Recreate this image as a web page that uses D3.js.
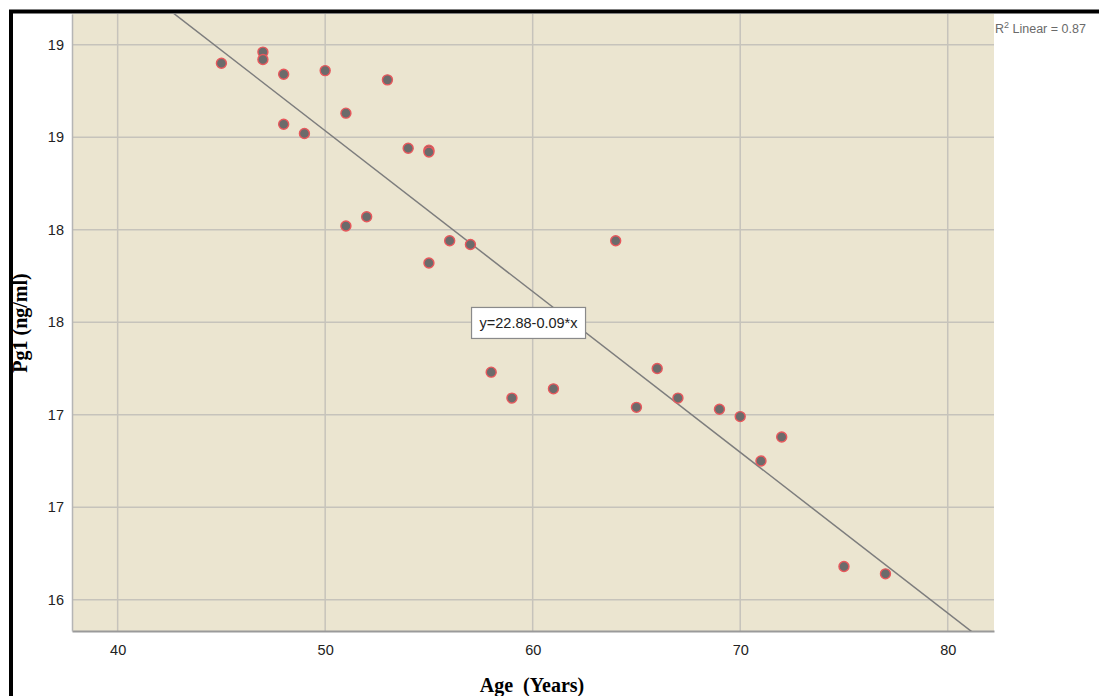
<!DOCTYPE html>
<html>
<head>
<meta charset="utf-8">
<script src="https://cdn.jsdelivr.net/npm/d3@7"></script>
<style>
  html, body { margin: 0; padding: 0; background: #ffffff; }
  svg { display: block; }
</style>
</head>
<body>
<svg id="chart" width="1099" height="696"></svg>
<script>
// ---- data ----
const ages = [45, 47, 47, 48, 50, 53, 48, 49, 51, 54, 55, 55, 51, 52, 56, 57, 55, 64,
              58, 59, 61, 66, 65, 67, 69, 70, 72, 71, 75, 77];
const pg1  = [18.90, 18.96, 18.92, 18.84, 18.86, 18.81, 18.57, 18.52, 18.63, 18.44, 18.43, 18.42,
              18.02, 18.07, 17.94, 17.92, 17.82, 17.94,
              17.23, 17.09, 17.14, 17.25, 17.04, 17.09, 17.03, 16.99, 16.88, 16.75, 16.18, 16.14];
const xTicks = [40, 50, 60, 70, 80];
const yTicks = [16, 16.5, 17, 17.5, 18, 18.5, 19];
const fitIntercept = 22.88;
const fitSlope = -0.0869;
const fitLabel = "y=22.88-0.09*x";
const r2Label = ["R", "2", " Linear = 0.87"];
const xTitle = "Age  (Years)";
const yTitle = "Pg1 (ng/ml)";

// ---- layout ----
const svg = d3.select("#chart");
const plot = { left: 72, top: 14, right: 994, bottom: 631 };
const x = d3.scaleLinear().domain([37.80, 82.23]).range([plot.left, plot.right]);
const y = d3.scaleLinear().domain([15.831, 19.166]).range([plot.bottom, plot.top]);

// outer frame
svg.append("rect")
  .attr("x", 11).attr("y", 11.5).attr("width", 1200).attr("height", 800)
  .attr("fill", "none").attr("stroke", "#000").attr("stroke-width", 4);

// plot background
svg.append("rect")
  .attr("x", plot.left).attr("y", plot.top)
  .attr("width", plot.right - plot.left).attr("height", plot.bottom - plot.top)
  .attr("fill", "#ebe5d0");

svg.append("clipPath").attr("id", "clip")
  .append("rect")
  .attr("x", plot.left).attr("y", plot.top)
  .attr("width", plot.right - plot.left).attr("height", plot.bottom - plot.top);

// gridlines
const grid = svg.append("g").attr("stroke", "#c6c3bb").attr("stroke-width", 1.5);
grid.selectAll("line.v").data(xTicks).join("line")
  .attr("x1", d => x(d)).attr("x2", d => x(d))
  .attr("y1", plot.top).attr("y2", plot.bottom);
grid.selectAll("line.h").data(yTicks).join("line")
  .attr("x1", plot.left).attr("x2", plot.right)
  .attr("y1", d => y(d)).attr("y2", d => y(d));

// axes
const fmtY = d => String(Math.round(d));
const xAxis = d3.axisBottom(x).tickValues(xTicks).tickSize(0).tickPadding(10).tickFormat(d3.format("d"));
const yAxis = d3.axisLeft(y).tickValues(yTicks).tickSize(0).tickPadding(8).tickFormat(fmtY);

const gx = svg.append("g").attr("transform", `translate(0,${plot.bottom})`).call(xAxis);
gx.select(".domain").attr("stroke", "#9a9a9a").attr("stroke-width", 2);
gx.selectAll("text").attr("font-family", "'Liberation Sans', Arial, sans-serif")
  .attr("font-size", 14.5).attr("fill", "#222").attr("dy", "0.95em");

const gy = svg.append("g").attr("transform", `translate(${plot.left},0)`).call(yAxis);
gy.select(".domain").attr("stroke", "#b5b5b5").attr("stroke-width", 1.5);
gy.selectAll("text").attr("font-family", "'Liberation Sans', Arial, sans-serif")
  .attr("font-size", 14.5).attr("fill", "#222");

// fit line
const xs = x.domain();
const lineData = [xs[0], xs[1]].map(a => [a, fitIntercept + fitSlope * a]);
svg.append("path")
  .datum(lineData)
  .attr("clip-path", "url(#clip)")
  .attr("d", d3.line().x(d => x(d[0])).y(d => y(d[1])))
  .attr("stroke", "#7d7d7d").attr("stroke-width", 1.5).attr("fill", "none");

// points
svg.append("g").selectAll("circle")
  .data(ages.map((a, i) => [a, pg1[i]]))
  .join("circle")
  .attr("cx", d => x(d[0])).attr("cy", d => y(d[1]))
  .attr("r", 5)
  .attr("fill", "#6b6b6b")
  .attr("stroke", "#e8585c").attr("stroke-width", 1.4);

// equation label box
const labelX = 59.8, labelY = 17.496;
const lg = svg.append("g").attr("transform", `translate(${x(labelX)},${y(labelY)})`);
lg.append("rect")
  .attr("x", -57).attr("y", -15.5).attr("width", 114).attr("height", 31)
  .attr("fill", "#ffffff").attr("stroke", "#8a8a8a").attr("stroke-width", 1.2);
lg.append("text")
  .attr("text-anchor", "middle").attr("dy", "0.36em")
  .attr("font-family", "'Liberation Sans', Arial, sans-serif")
  .attr("font-size", 14.5).attr("fill", "#222")
  .text(fitLabel);

// R^2 label
const rt = svg.append("text")
  .attr("x", plot.right + 1).attr("y", 33)
  .attr("font-family", "'Liberation Sans', Arial, sans-serif")
  .attr("font-size", 12.5).attr("fill", "#6a6a6a");
rt.append("tspan").text(r2Label[0]);
rt.append("tspan").attr("font-size", 9).attr("dy", -5).text(r2Label[1]);
rt.append("tspan").attr("dy", 5).text(r2Label[2]);

// axis titles
svg.append("text")
  .attr("x", 532).attr("y", 692)
  .attr("text-anchor", "middle")
  .attr("font-family", "'Liberation Serif', 'Times New Roman', serif")
  .attr("font-weight", "bold").attr("font-size", 20)
  .style("white-space", "pre")
  .text(xTitle);

svg.append("text")
  .attr("transform", "translate(27,323) rotate(-90)")
  .attr("text-anchor", "middle")
  .attr("font-family", "'Liberation Serif', 'Times New Roman', serif")
  .attr("font-weight", "bold").attr("font-size", 20)
  .text(yTitle);
</script>
</body>
</html>
